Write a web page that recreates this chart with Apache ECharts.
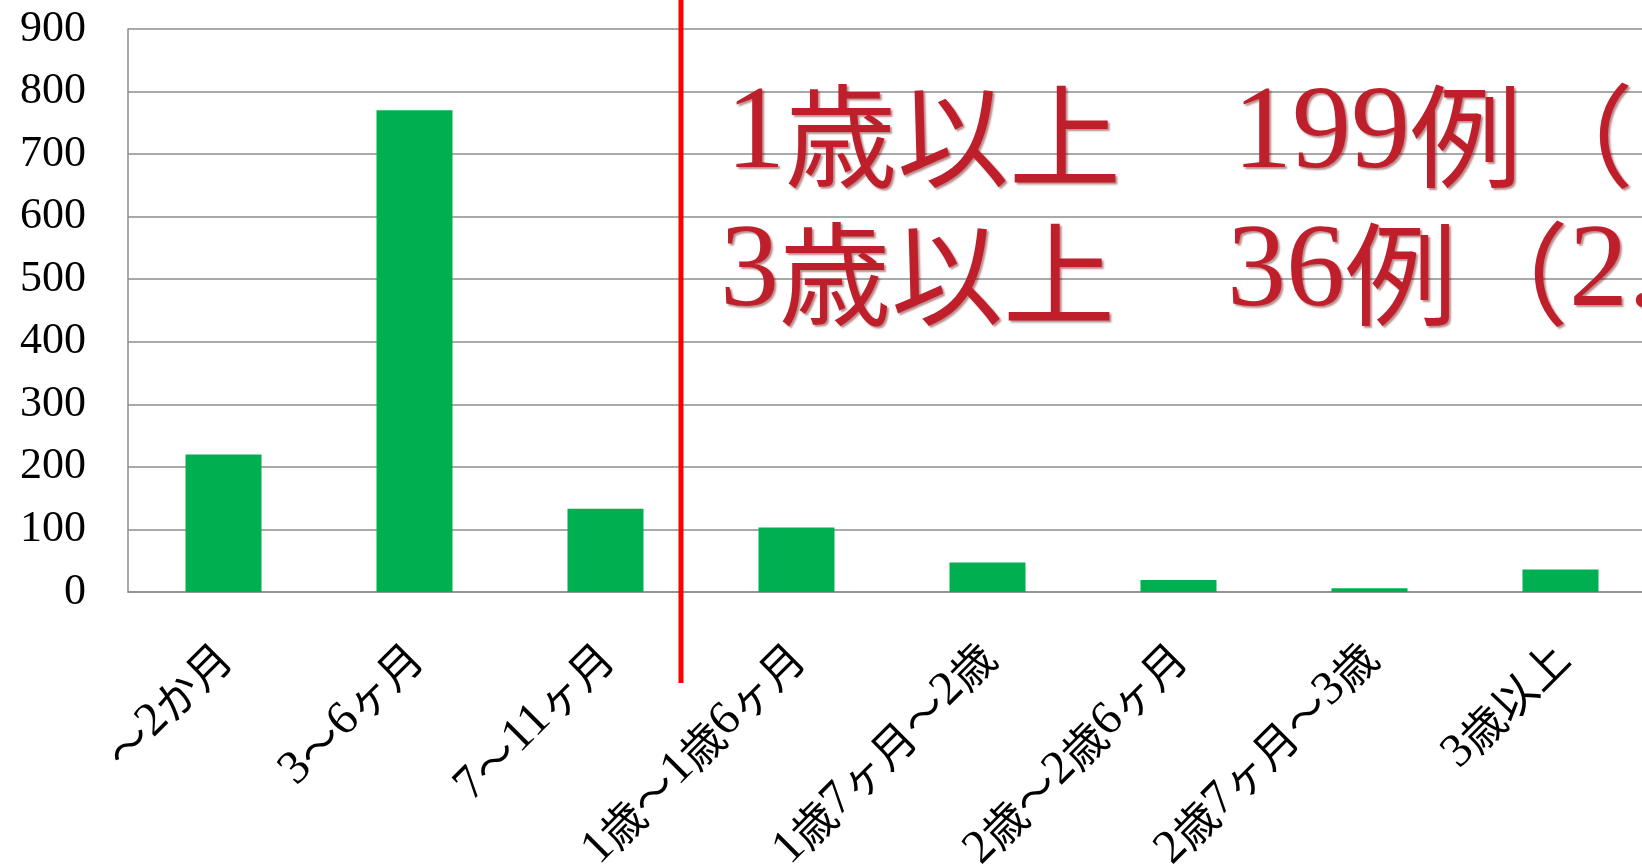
<!DOCTYPE html>
<html>
<head>
<meta charset="utf-8">
<script src="https://cdn.jsdelivr.net/npm/echarts@6/dist/echarts.min.js"></script>
<style>
html,body{margin:0;padding:0;background:#fff;}
#c{width:1642px;height:867px;}
</style>
</head>
<body>
<div id="c"></div>
<script>
var categories = ['～2か月', '3～6ヶ月', '7～11ヶ月', '1歳～1歳6ヶ月', '1歳7ヶ月～2歳', '2歳～2歳6ヶ月', '2歳7ヶ月～3歳', '3歳以上'];
var counts = [220, 770, 133, 103, 47, 19, 6, 36];
var yTicks = [0, 100, 200, 300, 400, 500, 600, 700, 800, 900];
var noteLines = ['1歳以上\u3000199例（15.5%）', '3歳以上\u300036例（2.8%）'];

var SERIF = 'Liberation Serif';
var CJK = 'Noto Sans CJK JP';

// split text into rich segments: Latin digits -> serif, everything else -> CJK font
function toRich(s) {
  var out = '';
  var re = /([0-9.%]+)|([^0-9.%]+)/g, m;
  while ((m = re.exec(s)) !== null) {
    if (m[1]) out += '{n|' + m[1] + '}';
    else out += '{c|' + m[2] + '}';
  }
  return out;
}

var chart = echarts.init(document.getElementById('c'), null, {renderer: 'canvas'});

var noteStyle = function (x, y, txt) {
  return {
    x: x, y: y, text: toRich(txt),
    textVerticalAlign: 'middle', textAlign: 'left',
    rich: {
      n: {fontFamily: SERIF, fontSize: 118, fill: '#BF1E2B', color: '#BF1E2B',
          textShadowColor: 'rgba(100,0,0,0.45)', textShadowBlur: 2, textShadowOffsetX: 2, textShadowOffsetY: 2},
      c: {fontFamily: CJK, fontSize: 112, fill: '#BF1E2B', color: '#BF1E2B',
          textShadowColor: 'rgba(100,0,0,0.45)', textShadowBlur: 2, textShadowOffsetX: 2, textShadowOffsetY: 2}
    }
  };
};

chart.setOption({
  animation: false,
  backgroundColor: '#ffffff',
  grid: {left: 128, top: 29, width: 1528, height: 563, containLabel: false, outerBoundsMode: 'none'},
  xAxis: {
    type: 'category',
    data: categories,
    boundaryGap: true,
    axisTick: {show: false},
    axisLine: {show: true, lineStyle: {color: '#8c8c8c', width: 1.5}},
    axisLabel: {
      interval: 0, rotate: 45, margin: 58,
      color: '#000', fontSize: 46,
      formatter: function (v) { return toRich(v); },
      rich: {
        n: {fontFamily: SERIF, fontSize: 48, color: '#000'},
        c: {fontFamily: CJK, fontSize: 44, color: '#000'}
      }
    }
  },
  yAxis: {
    type: 'value',
    min: yTicks[0], max: yTicks[yTicks.length - 1], interval: 100,
    axisLine: {show: true, lineStyle: {color: '#8c8c8c', width: 1.5}},
    axisTick: {show: false},
    splitLine: {show: true, lineStyle: {color: '#8c8c8c', width: 1.5}},
    axisLabel: {color: '#000', fontSize: 44, fontFamily: SERIF, margin: 42}
  },
  series: [{
    type: 'bar',
    data: counts,
    barWidth: 76,
    itemStyle: {color: '#00B050'},
    z: 3
  }],
  graphic: [
    {
      type: 'line', z: 100,
      shape: {x1: 681, y1: 0, x2: 681, y2: 683},
      style: {stroke: '#FF0000', lineWidth: 5}
    },
    {type: 'text', z: 101, style: noteStyle(726, 136, noteLines[0])},
    {type: 'text', z: 101, style: noteStyle(720, 274, noteLines[1])}
  ]
});
</script>
</body>
</html>
